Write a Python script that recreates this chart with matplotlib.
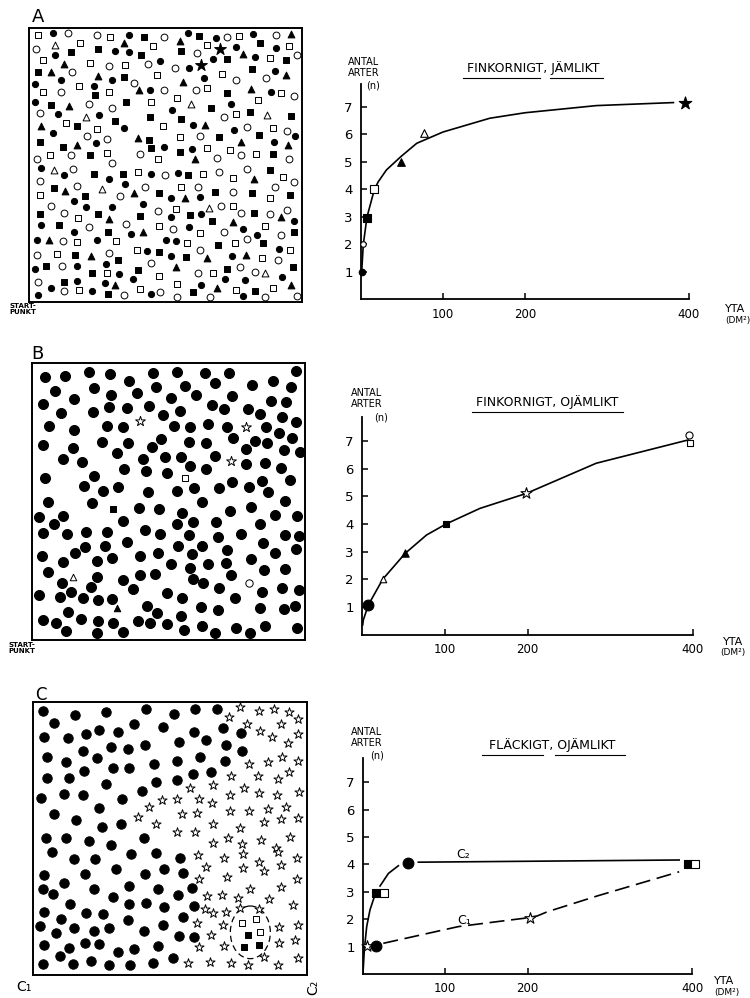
import matplotlib
matplotlib.use('Agg')
import matplotlib.pyplot as plt
from matplotlib.patches import Ellipse
from matplotlib.lines import Line2D

W, H = 750, 998

# symbols
# F filled circle, O open circle, S filled square, Q open square,
# T filled triangle, D open triangle, K star   (x,y in field units, y down)
field_a_top = """
Q30,27 F75,22 O120,22 O208,27 Q248,33 F305,27 S350,33 O408,33 T458,44 F482,22 S515,30 F567,35 O598,33 Q635,30 F677,25 O745,27 T790,25
D82,57 Q157,50 T290,50 Q375,60 Q540,57 K578,68 F625,62 S698,52 F745,65 Q785,60 O25,70 S212,68 F263,76 F305,78 S130,78 S460,76 O510,82
T648,85 F683,93 Q727,97 O810,88 F82,88 S340,88 S775,103
Q45,102 T108,113 Q187,110 O245,120 Q293,115 O362,112 F397,104 O444,124 F485,126 K522,117 F556,98 S600,98
S30,138 T70,136 O134,137 F100,160 T212,150 F253,160 S290,153 Q387,145 F530,155 Q583,143 O625,160 O715,155 F743,133 T777,145 S675,128
F22,173 Q45,197 O100,197 Q153,178 F200,180 O320,170 T333,192 F367,190 T466,168 O505,190 Q540,185 S600,200 T672,188 F732,197 Q762,200
O800,210 S203,207 Q243,197 O410,190
F22,228 S70,236 T125,240 O183,233 O253,245 S296,226 Q370,227 Q449,214 D492,233 S550,245 F612,233 Q693,222
O38,260 F92,263 D175,272 F215,266 S263,285 S367,272 F435,252 S460,277 O590,272 Q625,262 S667,258 D720,267 S790,270
T40,298 Q115,291 S147,298 F290,304 Q208,308 Q407,299 F497,296 T532,296 O658,302 F620,310 Q737,304 O778,313 F802,328 F75,320
O178,328 F205,348 O237,338 T330,334 Q458,330 O519,328 S574,330 S695,326 T640,346 F740,345 T782,355 S37,345 S363,340
S105,360 T149,356 Q237,378 S186,385 S370,365 F410,362 S458,375 F494,368 Q538,365 Q607,370 O640,384 Q685,381 S738,383 O338,382
O130,386 Q68,385 O28,396 Q392,396 T503,396 O568,393 O784,397
"""
field_a_bottom = """
O253,2 F40,16 D80,22 F110,38 O135,20 S200,35 F245,48 S285,35 Q330,28 F370,33 O413,38 F452,30 S483,38 Q527,33 O575,28 Q617,46 O658,20
T680,50 S727,22 Q768,44 O800,58 O38,54
S78,76 T112,86 O147,70 D222,80 F292,63 O277,100 T318,92 O353,74 Q462,72 O512,72 S563,88 O618,88 S673,90 O743,72 Q38,97 S173,100
F138,113 S393,90 F430,105 T474,105 F518,102 Q727,107 S788,97
O70,128 F175,133 F253,132 F346,124 O390,143 Q447,137 D545,134 O580,128 Q617,128 O640,150 S680,150 O728,152 T760,163 O780,140 F800,173
S37,153 O108,150 Q150,165 S211,153 T245,168 S338,158 S487,157 F520,152 F430,163 S553,173
F40,185 S95,185 O185,192 O295,183 Q395,188 O437,198 F485,193 T618,178 F647,198 Q712,190 F138,208 S240,207 F310,212 T345,207 Q518,210
O590,208 F690,215 O760,215 S800,207
F28,230 T65,230 O107,235 Q147,237 F207,230 Q265,235 F415,230 F447,235 Q478,240 S573,247 Q622,240 O658,227 S708,240 F755,257 Q788,260
O28,275 Q88,272 S143,277 T190,280 O243,270 S270,292 Q327,262 F358,264 S395,266 F430,278 S477,282 O517,262 T538,285 F613,280 T655,276
Q705,285 O752,292
F22,317 S55,310 O103,309 F147,308 S192,328 F235,303 Q237,330 F273,333 S330,320 O370,300 T447,312 O512,330 Q557,328 S600,318 O638,312
O682,327 D713,330 F765,340 S797,311 O32,355 S110,357 F148,352 F233,358 F315,346 Q393,339 F594,348 F653,349
F70,375 O108,382 Q153,380 F192,383 T263,365 S240,393 Q337,376 F370,393 O397,385 Q448,362 F520,364 T568,373 S497,385 O450,402 O548,400
Q625,380 S683,383 Q737,375 T790,365 F648,398 O712,402 O810,397 F32,395 O288,395
"""
field_b_top = """
F45,50 F105,47 F177,35 F240,43 F298,62 F368,38 F442,35 F527,38 F597,40 F800,32 F75,92 F193,84 F378,82 F465,77 F557,68 F668,74 F730,62
F785,80 F40,133 F133,117 F243,105 F322,100 F425,113 F498,105 F607,107 F723,123 F768,127 F93,160 F190,156 F238,142 F290,145 F357,139
K330,182 F398,165 F452,152 F547,135 F583,147 F655,148 F690,162 F757,170 F798,185 F57,197 F133,210 F230,197 F278,200 F433,198 F482,200
F535,192 F592,200 K650,200 F708,200 F748,218 F787,235 F38,255 F130,263 F215,245 F293,248 F392,237 F365,262 F478,247 F530,250 F610,235
F675,243 F712,250 F648,267 F762,270 F810,275 F100,298 F157,305 F260,278 F340,297 F405,290 F455,290 F555,287 K603,302 F650,313 F705,308
F755,325 F482,317 F528,328 F282,328 F348,333 F410,338 Q465,355 F45,355 F193,347 F163,377 F220,393 F265,382 F355,397 F443,393 F493,385
F567,383 F607,365 F658,380 F698,363 F715,395 F780,360
"""
field_b_bottom = """
F55,12 F187,15 S248,32 F328,28 F388,33 F457,44 F518,10 F602,37 F663,27 F766,8 F28,57 F72,78 F100,53 F278,69 F442,77 F490,70 F558,70
F690,77 F735,50 F803,52 F40,103 F112,107 F168,100 F232,102 F346,96 F390,107 F478,110 F565,115 F635,108 F700,133 F767,110 F808,112
F165,145 F135,165 F225,142 F290,132 F445,142 F487,167 F517,143 F592,155 F737,165 F800,152 F35,174 F100,192 F200,188 F247,178 F330,172
F385,165 F425,197 F480,208 F535,198 F588,195 F665,183 F55,220 D130,235 F200,235 F330,230 F375,228 F605,230 F703,215 F767,212 F97,253
F183,265 F278,246 F310,273 F490,243 F520,255 F569,268 O657,255 F697,280 F757,268 F808,276 F28,291 F90,295 F124,280 F158,298 F203,305
F247,303 F410,283 F457,300 F617,298 T262,328 F113,342 F352,323 F380,343 F455,353 F513,327 F565,335 F690,330 F763,333 F797,322 F38,365
F77,375 F107,398 F153,362 F203,367 F202,405 F250,373 F278,400 F323,368 F360,373 F410,378 F463,395 F517,382 F555,405 F620,388 F660,403
F707,383 F803,390
"""
field_c_top = """
F35,32 F133,46 F225,35 F345,26 F430,42 F492,27 F557,27 F68,68 F308,72 F395,80 F40,112 F110,113 F165,103 F203,90 F262,95 F490,95 F577,85
F630,98 F155,153 F240,140 F290,148 F343,135 F443,125 F525,120 F585,135 F632,152 F48,170 F105,185 F197,175 F370,193 F438,183 F508,172
F582,183 F160,213 F245,203 F295,205 F485,222 F540,215 F48,235 F113,233 F225,252 F375,247 F437,240 F30,293 F100,282 F157,285 F273,296
F333,273 F68,342 F203,325 F135,360 F212,382 F270,373
K627,20 K593,50 K685,33 K730,28 K775,35 K647,72 K688,92 K750,72 K800,58 K722,112 K770,128 K800,103 K655,192 K710,185 K752,170 K800,183
K600,228 K680,228 K740,237 K775,215 K478,263 K547,255 K640,265 K685,278 K737,285 K803,277 K392,300 K437,298 K505,297 K543,310 K597,285
K355,322 K452,343 K497,340 K598,332 K655,332 K710,328 K765,322 K322,352 K375,373 K438,395 K492,395 K547,373 K628,385 K700,365 K750,358
K800,355
"""
field_c_bottom = """
F45,5 F105,5 F175,15 F240,27 F340,5 F63,48 F130,68 F193,68 F300,55 F375,50 F447,65 F40,117 F100,140 F163,113 F255,98 F343,113 F398,100
F455,110 F35,158 F65,175 F190,160 F245,183 F295,150 F295,205 F345,200 F380,160 F440,178 F482,155 F118,205 F400,213 F490,210 F40,228
F90,248 F165,232 F215,235 F292,252 F28,270 F75,292 F130,275 F188,285 F233,275 F340,285 F395,268 F455,243 F443,300 F490,303 F40,328
F115,335 F163,320 F205,325 F262,348 F310,338 F380,330 F35,383 F88,360 F125,385 F180,375 F233,386 F298,386 F365,380 F425,365
K545,20 K592,5 K632,25 K690,12 K735,35 K778,2 K500,58 K578,65 K635,55 K685,78 K740,48 K797,65 K525,93 K588,122 K637,95 K700,105 K750,88
K797,130 K505,130 K658,158 K713,190 K750,153 K528,180 K572,177 K620,185 K785,207 K522,220 K547,230 K585,228 K627,215 K683,220 K497,262
K575,268 K745,273 K800,268 K540,297 K580,330 K745,322 K792,312 K505,332 K800,365 K470,382 K537,378 K600,380 K650,388 K700,362 K740,388
Q633,262 Q675,248 Q688,288 S650,298 S640,332 S685,327
"""

# species-area curves
area_ticks = [100, 200, 400]
area_labels = ['100', '200', '400']
species_ticks = [1, 2, 3, 4, 5, 6, 7]

a_curve_x = [0.8, 2.8, 7.3, 16.3, 21, 31, 48.8, 68, 100, 157, 200, 287, 381]
a_curve_y = [1.0, 2.0, 3.0, 4.0, 4.28, 4.71, 5.2, 5.68, 6.09, 6.59, 6.79, 7.05, 7.16]
a_pts_x = [0.8, 2.8, 7.3, 16.3, 48.8, 76.4, 395]
a_pts_y = [1.0, 2.0, 2.98, 4.0, 5.01, 6.04, 7.16]
a_pts_kind = ['F', 'O', 'S', 'Q', 'T', 'D', 'K']

b_curve_x = [0.8, 1.6, 7.6, 25, 52.3, 78, 101.8, 142.5, 198.5, 283, 394]
b_curve_y = [0.35, 0.53, 1.07, 2.0, 2.94, 3.6, 4.0, 4.56, 5.1, 6.19, 7.03]
b_pts_x = [7.6, 25, 52.3, 101.8, 198.5, 395, 396]
b_pts_y = [1.07, 2.0, 2.94, 4.0, 5.1, 7.21, 6.91]
b_pts_kind = ['BIG', 'D', 'T', 'S', 'K', 'O', 'Q']

c2_rise_x = [0, 1.6, 4.5, 8.5, 13.8]
c2_rise_y = [0.02, 0.88, 1.73, 2.34, 2.82]
c2_bend_x = [20.7, 30.9, 43]
c2_bend_y = [3.21, 3.67, 3.95]
c2_flat_x = [67.3, 384.4]
c2_flat_y = [4.08, 4.16]
c1_x = [24.7, 69.5, 116, 163, 195, 212, 224, 285, 384.4]
c1_y = [1.12, 1.42, 1.73, 1.91, 2.03, 2.12, 2.27, 2.85, 3.73]
c_pts_x = [4.5, 15.4, 16.2, 25.2, 54.4, 395, 404, 203.6]
c_pts_y = [1.02, 1.02, 2.97, 2.97, 4.06, 4.01, 4.01, 2.03]
c_pts_kind = ['K', 'BIG', 'S', 'Q', 'BIG', 'S', 'Q', 'K']


def parse(text, dy=0):
    pts = []
    for tok in text.split():
        x, y = tok[1:].split(',')
        pts.append((tok[0], int(x), int(y) + dy))
    return pts


def box_axes(x0, y0, x1, y1):
    return fig.add_axes([x0 / W, 1 - y1 / H, (x1 - x0) / W, (y1 - y0) / H])


def ftext(x, y, s, **kw):
    kw.setdefault('ha', 'center')
    kw.setdefault('va', 'center')
    fig.text(x / W, 1 - y / H, s, **kw)


def fline(x0, x1, y, **kw):
    fig.add_artist(Line2D([x0 / W, x1 / W], [1 - y / H, 1 - y / H],
                          transform=fig.transFigure, color='black', lw=0.8, **kw))


MARK = {'F': ('o', True), 'O': ('o', False), 'S': ('s', True), 'Q': ('s', False),
        'T': ('^', True), 'D': ('^', False), 'K': ('*', False), 'BIG': ('o', True)}


def draw_symbols(ax, pts, sizes, star_filled=False):
    for kind in sizes:
        xs = [p[1] for p in pts if p[0] == kind]
        ys = [p[2] for p in pts if p[0] == kind]
        if not xs:
            continue
        marker, filled = MARK[kind]
        if kind == 'K':
            filled = star_filled
        ax.scatter(xs, ys, s=sizes[kind], marker=marker,
                   facecolors='black' if filled else 'white',
                   edgecolors='black', linewidths=0.7, clip_on=False, zorder=3)


def field(box, lim, pts, sizes, star_filled=False):
    ax = box_axes(*box)
    ax.set_xlim(lim[0], lim[1])
    ax.set_ylim(lim[3], lim[2])
    ax.set_xticks([])
    ax.set_yticks([])
    for sp in ax.spines.values():
        sp.set_linewidth(1.4)
    draw_symbols(ax, pts, sizes, star_filled)
    return ax


def chart(box, ymax):
    ax = box_axes(*box)
    ax.set_xlim(0, 400)
    ax.set_ylim(0, ymax)
    ax.spines[['top', 'right']].set_visible(False)
    for sp in ax.spines.values():
        sp.set_linewidth(1.3)
    ax.set_xticks(area_ticks, area_labels, fontsize=8.5)
    ax.set_yticks(species_ticks, [str(v) for v in species_ticks], fontsize=9.5)
    ax.tick_params(direction='in', length=4, width=1.1)
    ax.tick_params(axis='x', pad=6)
    ax.tick_params(axis='y', pad=6)
    return ax


def chart_points(ax, xs, ys, kinds, sizes, star_filled=False):
    for x, y, k in zip(xs, ys, kinds):
        marker, filled = MARK[k]
        if k == 'K':
            filled = star_filled
        ax.scatter([x], [y], s=sizes[k], marker=marker,
                   facecolors='black' if filled else 'white',
                   edgecolors='black', linewidths=0.8, clip_on=False, zorder=3)


plt.rcParams['font.family'] = ['DejaVu Sans']
fig = plt.figure(figsize=(7.5, 9.98), dpi=100)

# ---- left: sample plots ----
field((29, 28, 302, 302), (4, 824, 6, 824),
      parse(field_a_top) + parse(field_a_bottom, 408),
      {'F': 20, 'O': 24, 'S': 14, 'Q': 14, 'T': 24, 'D': 24, 'K': 80}, star_filled=True)
field((32, 363, 305, 640), (6, 826, 9, 839),
      parse(field_b_top) + parse(field_b_bottom, 414),
      {'F': 52, 'O': 28, 'S': 14, 'Q': 14, 'T': 22, 'D': 22, 'K': 55})
axc = field((33, 702, 307, 975), (6, 828, 6, 825),
            parse(field_c_top) + parse(field_c_bottom, 408),
            {'F': 46, 'K': 48, 'S': 13, 'Q': 13})
axc.add_patch(Ellipse((658, 697), 120, 158, fill=False, lw=0.9, ls=(0, (5, 3))))

ftext(38, 17, 'A', fontsize=13)
ftext(37, 354, 'B', fontsize=13)
ftext(41, 695, 'C', fontsize=12)
ftext(23, 309, 'START-\nPUNKT', fontsize=5, fontweight='bold', linespacing=1.1)
ftext(22, 648, 'START-\nPUNKT', fontsize=5, fontweight='bold', linespacing=1.1)
ftext(24, 987, 'C₁', fontsize=10)
ftext(313, 987, 'C₂', fontsize=10, rotation=90)

# ---- right: species-area curves ----
axa = chart((361, 83.6, 689, 299.5), 7.85)
axa.plot(a_curve_x, a_curve_y, color='black', lw=1.2, zorder=2)
chart_points(axa, a_pts_x, a_pts_y, a_pts_kind,
             {'F': 22, 'O': 16, 'S': 34, 'Q': 34, 'T': 30, 'D': 30, 'K': 90}, star_filled=True)

axb = chart((362, 417, 693, 634.7), 7.86)
axb.plot(b_curve_x, b_curve_y, color='black', lw=1.2, zorder=2)
chart_points(axb, b_pts_x, b_pts_y, b_pts_kind,
             {'BIG': 60, 'D': 22, 'T': 28, 'S': 22, 'K': 70, 'O': 26, 'Q': 22})

axc2 = chart((363, 757.5, 692, 974), 7.9)
for xs, ys in [(c2_rise_x, c2_rise_y), (c2_bend_x, c2_bend_y), (c2_flat_x, c2_flat_y)]:
    axc2.plot(xs, ys, color='black', lw=1.2, zorder=2)
axc2.plot(c1_x, c1_y, color='black', lw=1.2, ls=(0, (9, 4)), zorder=2)
chart_points(axc2, c_pts_x, c_pts_y, c_pts_kind,
             {'BIG': 60, 'S': 26, 'Q': 26, 'K': 70})
axc2.text(122, 4.36, 'C₂', fontsize=9, ha='center', va='center')
axc2.text(123, 1.97, 'C₁', fontsize=9, ha='center', va='center')

# axis captions and titles
for (cx, y0, nx), title, tx, ty in [((364, 62, 373), 'FINKORNIGT, JÄMLIKT', 533, 68),
                                     ((367, 393, 381), 'FINKORNIGT, OJÄMLIKT', 547, 402),
                                     ((367, 732, 377), 'FLÄCKIGT, OJÄMLIKT', 552, 745)]:
    ftext(cx, y0, 'ANTAL', fontsize=7)
    ftext(cx, y0 + 11, 'ARTER', fontsize=7)
    ftext(nx, y0 + 24, '(n)', fontsize=7)
    ftext(tx, ty, title, fontsize=9)

fline(463, 540, 78)
fline(550, 603, 78)
fline(472, 623, 412)
fline(482, 543, 755)
fline(555, 625, 755)

ftext(735, 309, 'YTA', fontsize=8)
ftext(725, 321, '(DM²)', fontsize=6.5, ha='left')
ftext(733, 642, 'YTA', fontsize=8)
ftext(733, 653, '(DM²)', fontsize=6.5)
ftext(724, 981, 'YTA', fontsize=8)
ftext(727, 993, '(DM²)', fontsize=6.5)

fig.savefig('out.png', dpi=100)
